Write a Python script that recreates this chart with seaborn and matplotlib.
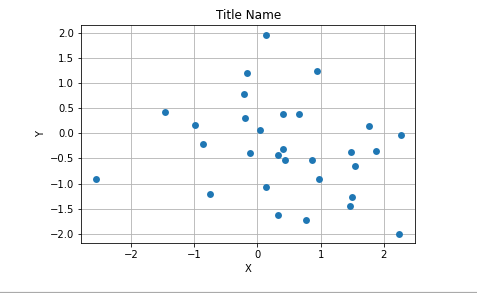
import matplotlib
matplotlib.use("Agg")
import matplotlib.pyplot as plt
import seaborn as sns
import pandas as pd
from matplotlib.lines import Line2D

x_vals = [-2.55, -1.46, -0.98, -0.86, -0.75, -0.16, -0.21, -0.19, -0.11, 0.04,
          0.13, 0.14, 0.32, 0.33, 0.40, 0.41, 0.44, 0.65, 0.77, 0.86,
          0.95, 0.98, 1.46, 1.49, 1.48, 1.54, 1.76, 1.87, 2.27, 2.24]
y_vals = [-0.90, 0.42, 0.16, -0.22, -1.20, 1.20, 0.78, 0.30, -0.40, 0.06,
          1.96, -1.06, -1.62, -0.44, 0.38, -0.32, -0.52, 0.38, -1.72, -0.52,
          1.24, -0.90, -1.44, -1.26, -0.38, -0.64, 0.14, -0.36, -0.04, -2.00]

df = pd.DataFrame({"X": x_vals, "Y": y_vals})

plt.rcParams["font.family"] = ["DejaVu Sans"]
fig = plt.figure(figsize=(477 / 72, 293 / 72), dpi=72)
ax = fig.add_axes([0.170, 0.170, 0.701, 0.744])
sns.scatterplot(data=df, x="X", y="Y", ax=ax, s=48, color="#1f77b4", linewidth=0)
ax.set_xlim(-2.79, 2.5)
ax.set_ylim(-2.19, 2.16)
ax.set_xticks([-2, -1, 0, 1, 2])
ax.set_yticks([-2.0, -1.5, -1.0, -0.5, 0.0, 0.5, 1.0, 1.5, 2.0])
ax.grid(True, color="#b0b0b0", linewidth=0.8)
ax.set_axisbelow(True)
ax.set_title("Title Name", fontsize=12)
ax.set_xlabel("X", fontsize=10)
ax.set_ylabel("Y", fontsize=10)
fig.add_artist(Line2D([0, 1], [0.005, 0.005], transform=fig.transFigure, color="#aaaaaa", linewidth=1.2))
fig.savefig("out.png", dpi=72)
